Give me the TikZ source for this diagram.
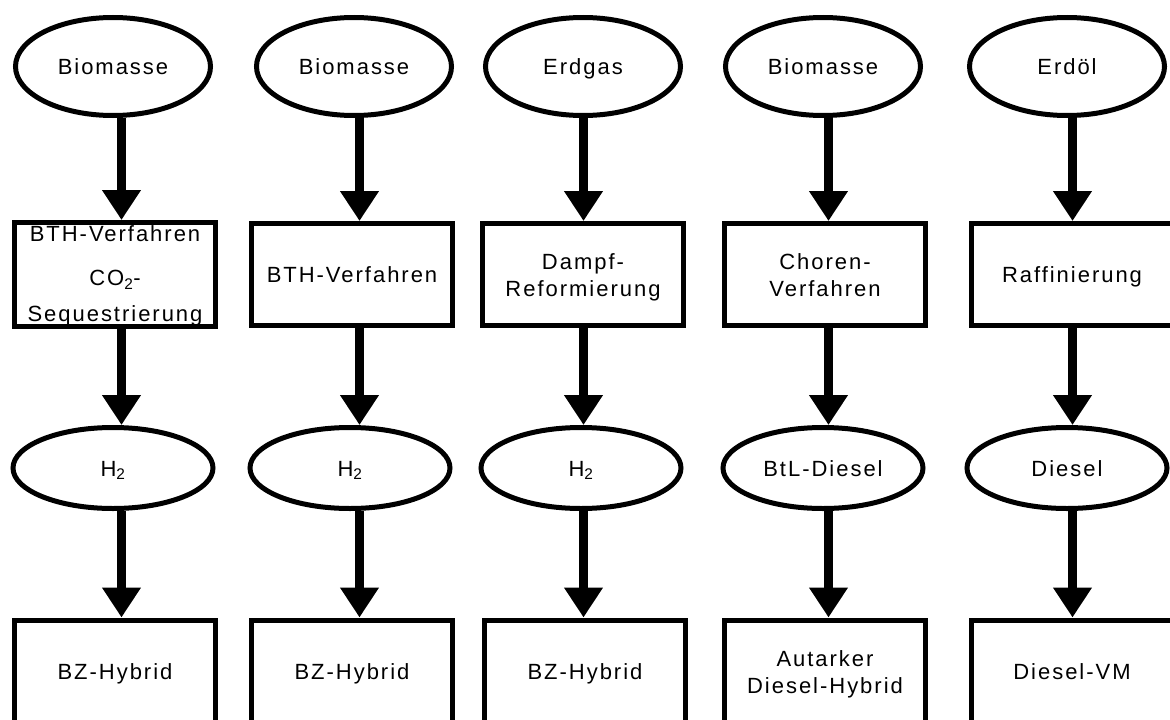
\documentclass[tikz,border=0pt]{standalone}
\usepackage{fontspec}
\setmainfont{Liberation Sans}[LetterSpace=9]
\usetikzlibrary{shapes.geometric,arrows.meta}

\begin{document}
\begin{tikzpicture}[x=1pt,y=-1pt,
    font=\fontsize{22}{27}\selectfont,
    zeile/.style={text height=16pt,text depth=0pt},
    quelle/.style={draw,ellipse,line width=5pt,inner sep=0pt,minimum width=195pt,minimum height=98pt,zeile},
    produkt/.style={draw,ellipse,line width=5pt,inner sep=0pt,minimum width=200pt,minimum height=81pt,zeile},
    prozess/.style={draw,rectangle,line width=5pt,inner sep=0pt,minimum width=201pt,minimum height=102pt,align=center},
    pfeil/.style={line width=9pt,-{Triangle[width=37pt,length=30pt]}}]
    \useasboundingbox (0,0) rectangle (1170,720);
    \clip (0,0) rectangle (1170,720);

    \pgfmathsetmacro{\colA}{115}
    \pgfmathsetmacro{\colB}{352}
    \pgfmathsetmacro{\colC}{583}
    \pgfmathsetmacro{\colD}{825}
    \pgfmathsetmacro{\colE}{1072}
    \pgfmathsetmacro{\rowQuelle}{66.5}
    \pgfmathsetmacro{\rowProzess}{274.5}
    \pgfmathsetmacro{\rowProdukt}{468}
    \pgfmathsetmacro{\rowAntrieb}{671}
    % Pfeile sitzen etwas rechts der Mitte
    \pgfmathsetmacro{\pfA}{121.5}
    \pgfmathsetmacro{\pfB}{359.5}
    \pgfmathsetmacro{\pfC}{583.5}
    \pgfmathsetmacro{\pfD}{828.5}
    \pgfmathsetmacro{\pfE}{1072.5}

    % Primaerenergie
    \node (q1) [quelle] at (\colA-2,\rowQuelle) {Biomasse};
    \node (q2) [quelle] at (\colB+2,\rowQuelle) {Biomasse};
    \node (q3) [quelle] at (\colC,\rowQuelle) {Erdgas};
    \node (q4) [quelle] at (\colD-2,\rowQuelle) {Biomasse};
    \node (q5) [quelle] at (\colE-5,\rowQuelle) {Erdöl};

    % Umwandlung
    \node (p1) [prozess] at (\colA,\rowProzess)
        {\rule{0pt}{19pt}BTH-Verfahren\\[17pt]CO\textsubscript{2}-\\[9pt]Sequestrierung\rule[-5pt]{0pt}{5pt}};
    \node (p2) [prozess,zeile] at (\colB,\rowProzess) {BTH-Verfahren};
    \node (p3) [prozess] at (\colC,\rowProzess) {\rule{0pt}{22pt}Dampf-\\Reformierung\rule[-5pt]{0pt}{5pt}};
    \node (p4) [prozess] at (\colD,\rowProzess) {\rule{0pt}{22pt}Choren-\\Verfahren\rule[-5pt]{0pt}{5pt}};
    \node (p5) [prozess,zeile] at (\colE,\rowProzess) {Raffinierung};

    % Kraftstoff
    \node (k1) [produkt] at (\colA-2,\rowProdukt) {H\textsubscript{2}};
    \node (k2) [produkt] at (\colB-2,\rowProdukt) {H\textsubscript{2}};
    \node (k3) [produkt] at (\colC-2,\rowProdukt) {H\textsubscript{2}};
    \node (k4) [produkt] at (\colD-2,\rowProdukt) {BtL-Diesel};
    \node (k5) [produkt] at (\colE-5,\rowProdukt) {Diesel};

    % Fahrzeug
    \node (f1) [prozess,zeile] at (\colA,\rowAntrieb) {BZ-Hybrid};
    \node (f2) [prozess,zeile] at (\colB,\rowAntrieb) {BZ-Hybrid};
    \node (f3) [prozess,zeile] at (\colC+2,\rowAntrieb) {BZ-Hybrid};
    \node (f4) [prozess] at (\colD,\rowAntrieb) {\rule{0pt}{22pt}Autarker\\Diesel-Hybrid\rule[-5pt]{0pt}{5pt}};
    \node (f5) [prozess,zeile] at (\colE,\rowAntrieb) {Diesel-VM};

    \draw [pfeil] (\pfA,0 |- q1.south) -- (\pfA,0 |- p1.north);
    \draw [pfeil] (\pfB,0 |- q2.south) -- (\pfB,0 |- p2.north);
    \draw [pfeil] (\pfC,0 |- q3.south) -- (\pfC,0 |- p3.north);
    \draw [pfeil] (\pfD,0 |- q4.south) -- (\pfD,0 |- p4.north);
    \draw [pfeil] (\pfE,0 |- q5.south) -- (\pfE,0 |- p5.north);

    \draw [pfeil] (\pfA,0 |- p1.south) -- (\pfA,0 |- k1.north);
    \draw [pfeil] (\pfB,0 |- p2.south) -- (\pfB,0 |- k2.north);
    \draw [pfeil] (\pfC,0 |- p3.south) -- (\pfC,0 |- k3.north);
    \draw [pfeil] (\pfD,0 |- p4.south) -- (\pfD,0 |- k4.north);
    \draw [pfeil] (\pfE,0 |- p5.south) -- (\pfE,0 |- k5.north);

    \draw [pfeil] (\pfA,0 |- k1.south) -- (\pfA,0 |- f1.north);
    \draw [pfeil] (\pfB,0 |- k2.south) -- (\pfB,0 |- f2.north);
    \draw [pfeil] (\pfC,0 |- k3.south) -- (\pfC,0 |- f3.north);
    \draw [pfeil] (\pfD,0 |- k4.south) -- (\pfD,0 |- f4.north);
    \draw [pfeil] (\pfE,0 |- k5.south) -- (\pfE,0 |- f5.north);
  \end{tikzpicture}
\end{document}
